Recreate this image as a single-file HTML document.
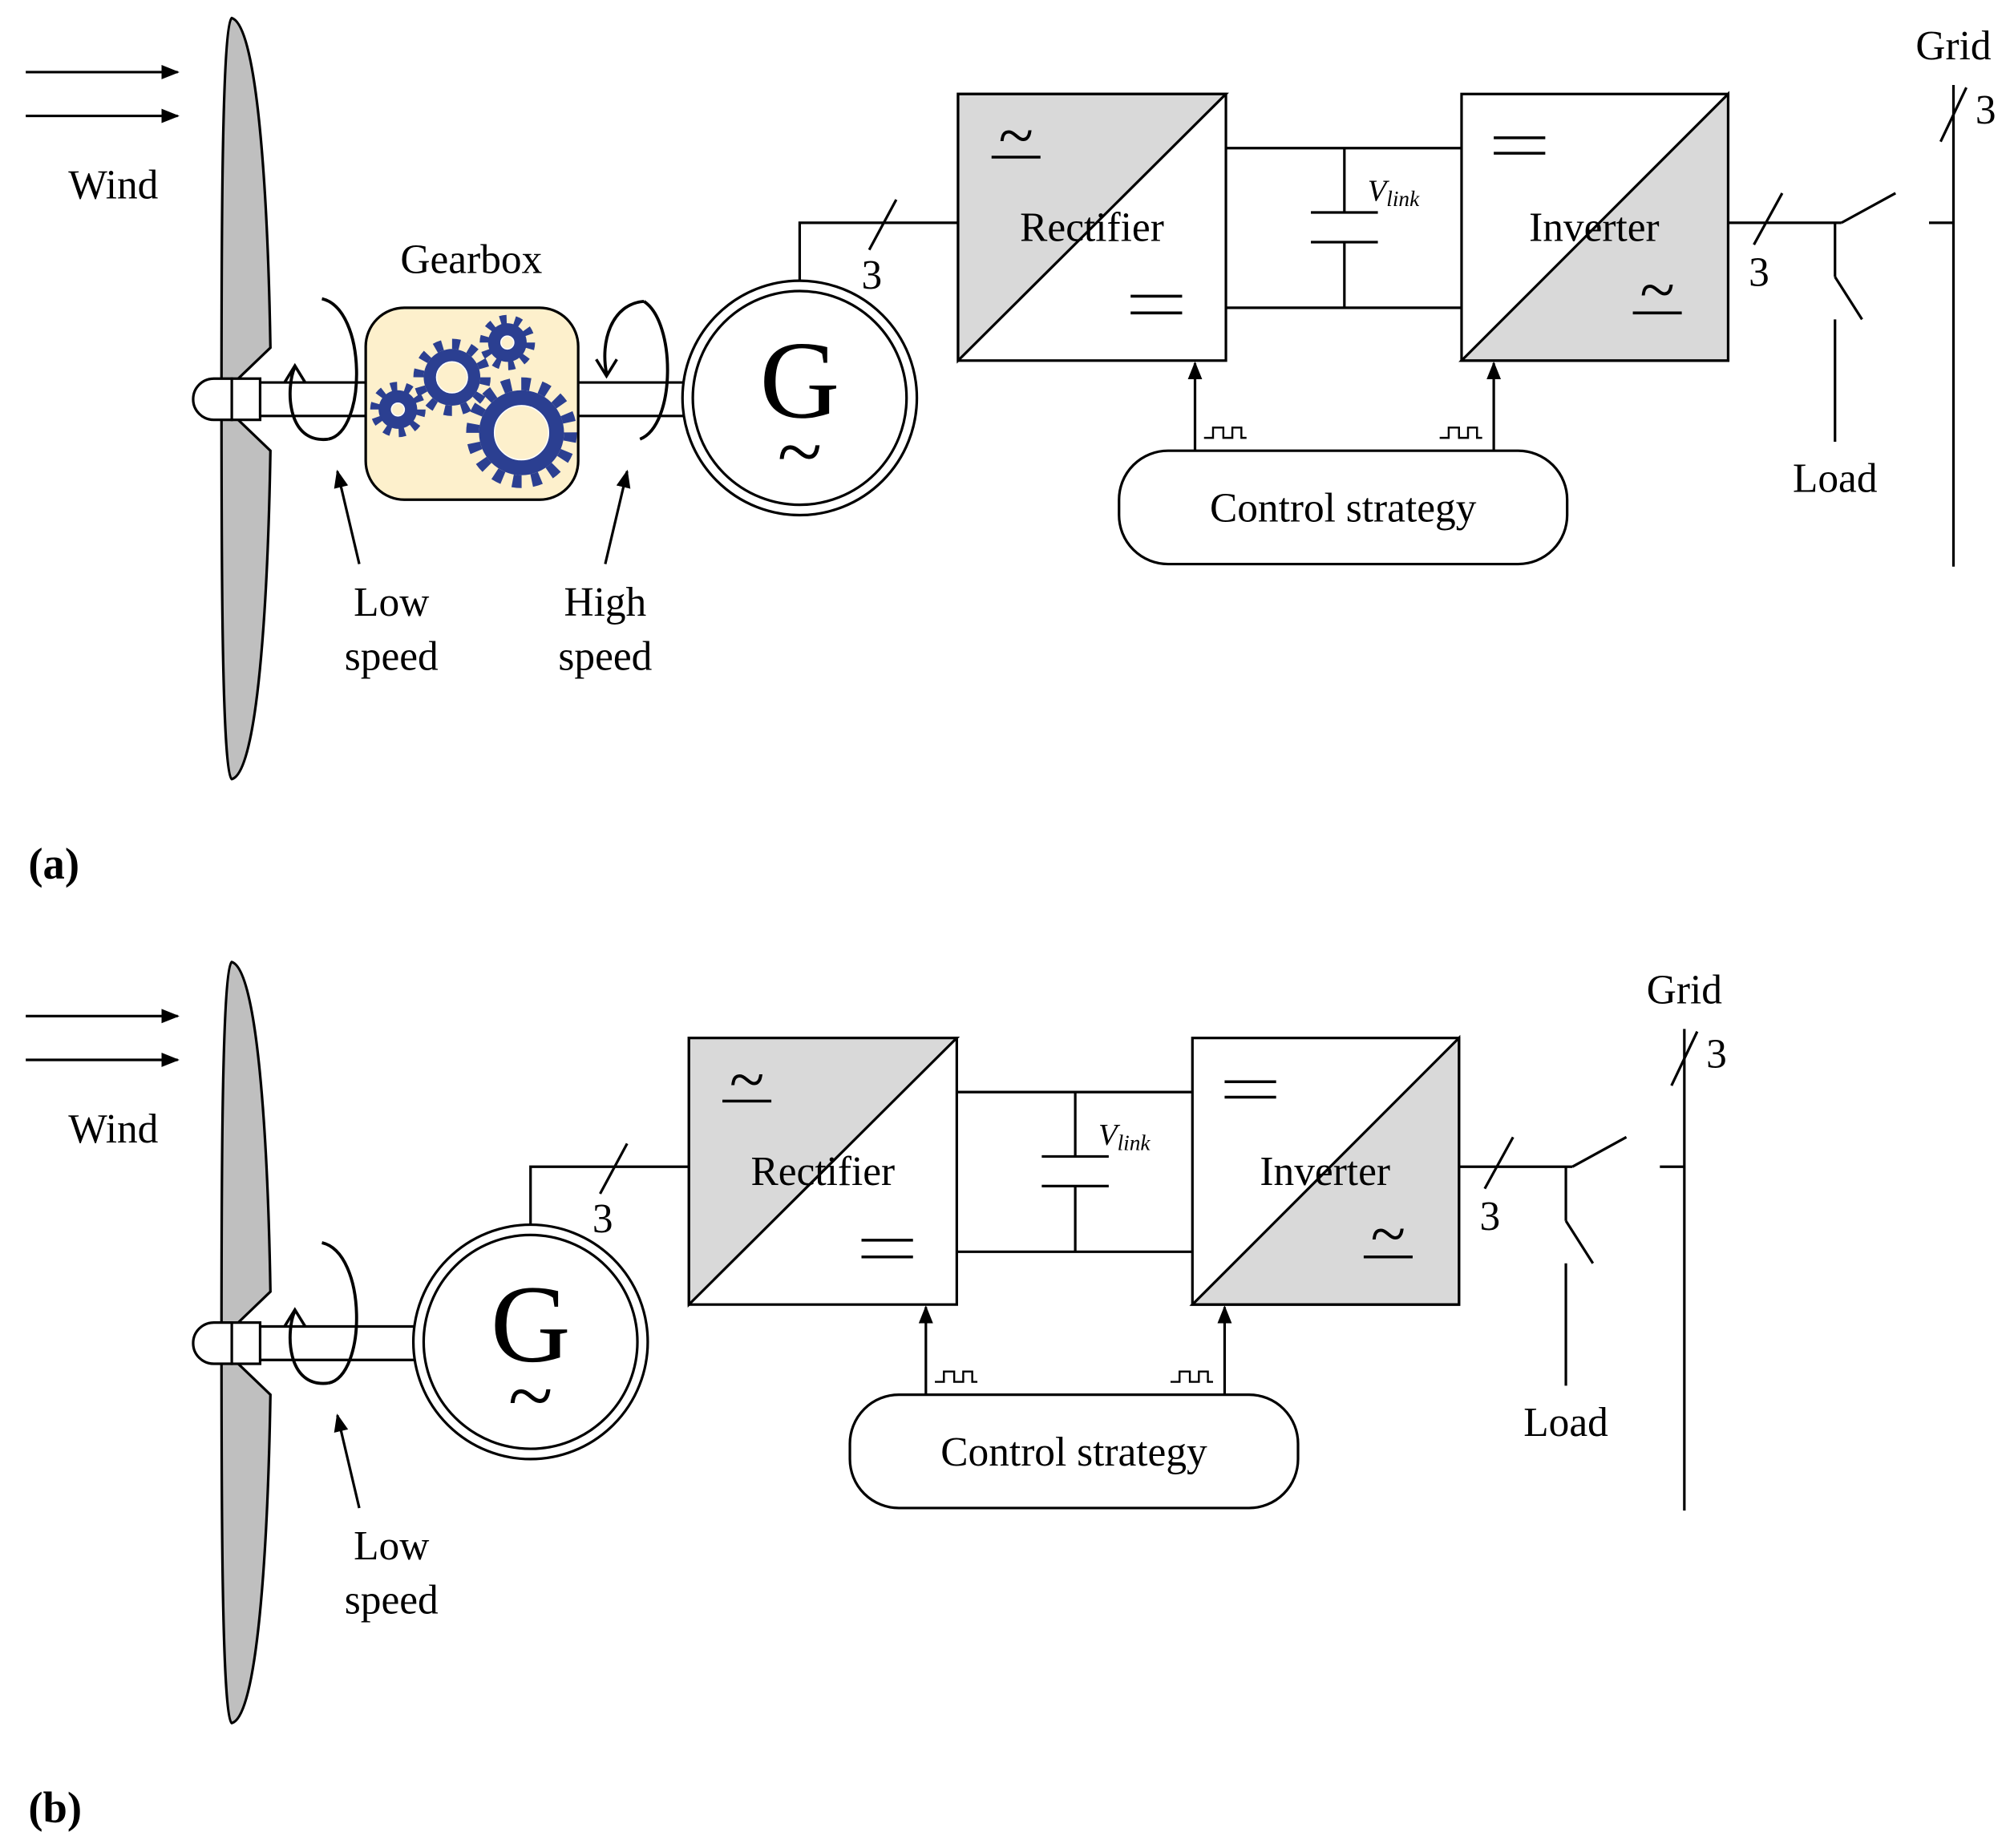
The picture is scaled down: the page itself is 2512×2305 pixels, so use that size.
<!DOCTYPE html>
<html><head><meta charset="utf-8"><style>html,body{margin:0;padding:0;background:#fff}svg{display:block}</style></head>
<body>
<svg width="2512" height="2305" viewBox="0 0 1564 1435" preserveAspectRatio="none" xmlns="http://www.w3.org/2000/svg" font-family="Liberation Serif, serif" font-size="32">
<defs>
<marker id="ah2" viewBox="0 0 10 10" refX="9" refY="5" markerWidth="14" markerHeight="14" orient="auto" markerUnits="userSpaceOnUse"><path d="M0,1 L10,5 L0,9 z" fill="#000"/></marker>
<g id="turb">
<line x1="20" y1="56" x2="138" y2="56" stroke="#000" stroke-width="2" marker-end="url(#ah2)"/>
<line x1="20" y1="90" x2="138" y2="90" stroke="#000" stroke-width="2" marker-end="url(#ah2)"/>
<text x="88" y="154" text-anchor="middle">Wind</text>
<path d="M180,14 C200,20 208,150 210,270 L185,294 L185,326 L210,350 C208,470 200,600 180,605 C172,600 172,420 172,310 C172,200 172,20 180,14 Z" fill="#bfbfbf" stroke="#000" stroke-width="2"/>
<path d="M180,294 L166,294 A16,16 0 0 0 166,326 L180,326 Z" fill="#fff" stroke="#000" stroke-width="2"/>
<rect x="180" y="294" width="22" height="32" fill="#fff" stroke="#000" stroke-width="2"/>
<path d="M250,232 C285,240 285,335 255,341" fill="none" stroke="#000" stroke-width="2.4"/>
<path d="M255,341 C222,345 222,300 229,285" fill="none" stroke="#000" stroke-width="2.4"/>
<path d="M221,297 L229,284 L237,297" fill="none" stroke="#000" stroke-width="2.2"/>
<line x1="279" y1="438" x2="262" y2="366" stroke="#000" stroke-width="2" marker-end="url(#ah2)"/>
<text x="304" y="478" text-anchor="middle">Low</text>
<text x="304" y="520" text-anchor="middle">speed</text>
</g>
<g id="elec">
<circle cx="621" cy="309" r="91" fill="#fff" stroke="#000" stroke-width="2"/>
<circle cx="621" cy="309" r="83" fill="none" stroke="#000" stroke-width="2"/>
<text x="621" y="324" text-anchor="middle" font-size="86">G</text>
<text x="621" y="372" text-anchor="middle" font-size="64">~</text>
<polyline points="621,218 621,173 744,173" fill="none" stroke="#000" stroke-width="2"/>
<line x1="675" y1="194" x2="696" y2="155" stroke="#000" stroke-width="2"/>
<text x="677" y="224" text-anchor="middle">3</text>
<rect x="744" y="73" width="208" height="207" fill="#fff" stroke="#000" stroke-width="2"/>
<path d="M744,73 L952,73 L744,280 Z" fill="#d9d9d9" stroke="#000" stroke-width="2"/>
<text x="848" y="187" text-anchor="middle">Rectifier</text>
<text x="789" y="122" text-anchor="middle" font-size="50">~</text>
<line x1="770" y1="122" x2="808" y2="122" stroke="#000" stroke-width="2.2"/>
<line x1="878" y1="230" x2="918" y2="230" stroke="#000" stroke-width="2.2"/>
<line x1="878" y1="243" x2="918" y2="243" stroke="#000" stroke-width="2.2"/>
<polyline points="952,115 1135,115" stroke="#000" stroke-width="2"/>
<polyline points="952,239 1135,239" stroke="#000" stroke-width="2"/>
<line x1="1044" y1="115" x2="1044" y2="165" stroke="#000" stroke-width="2"/>
<line x1="1018" y1="165" x2="1070" y2="165" stroke="#000" stroke-width="2"/>
<line x1="1018" y1="188" x2="1070" y2="188" stroke="#000" stroke-width="2"/>
<line x1="1044" y1="188" x2="1044" y2="239" stroke="#000" stroke-width="2"/>
<text x="1062" y="156" font-size="24" font-style="italic">V<tspan font-size="17" dy="4">link</tspan></text>
<rect x="1135" y="73" width="207" height="207" fill="#fff" stroke="#000" stroke-width="2"/>
<path d="M1342,73 L1342,280 L1135,280 Z" fill="#d9d9d9" stroke="#000" stroke-width="2"/>
<text x="1238" y="187" text-anchor="middle">Inverter</text>
<line x1="1160" y1="107" x2="1200" y2="107" stroke="#000" stroke-width="2.2"/>
<line x1="1160" y1="119" x2="1200" y2="119" stroke="#000" stroke-width="2.2"/>
<text x="1287" y="242" text-anchor="middle" font-size="50">~</text>
<line x1="1268" y1="243" x2="1306" y2="243" stroke="#000" stroke-width="2.2"/>
<line x1="1342" y1="173" x2="1430" y2="173" stroke="#000" stroke-width="2"/>
<line x1="1362" y1="190" x2="1384" y2="150" stroke="#000" stroke-width="2"/>
<text x="1366" y="222" text-anchor="middle">3</text>
<line x1="1430" y1="173" x2="1472" y2="150" stroke="#000" stroke-width="2"/>
<line x1="1498" y1="173" x2="1517" y2="173" stroke="#000" stroke-width="2"/>
<line x1="1425" y1="173" x2="1425" y2="215" stroke="#000" stroke-width="2"/>
<line x1="1425" y1="215" x2="1446" y2="248" stroke="#000" stroke-width="2"/>
<line x1="1425" y1="248" x2="1425" y2="343" stroke="#000" stroke-width="2"/>
<text x="1425" y="382" text-anchor="middle">Load</text>
<line x1="1517" y1="66" x2="1517" y2="440" stroke="#000" stroke-width="2"/>
<line x1="1507" y1="110" x2="1527" y2="68" stroke="#000" stroke-width="2"/>
<text x="1542" y="96" text-anchor="middle">3</text>
<text x="1517" y="46" text-anchor="middle">Grid</text>
<rect x="869" y="350" width="348" height="88" rx="38" fill="#fff" stroke="#000" stroke-width="2"/>
<text x="1043" y="405" text-anchor="middle">Control strategy</text>
<line x1="928" y1="350" x2="928" y2="282" stroke="#000" stroke-width="2" marker-end="url(#ah2)"/>
<line x1="1160" y1="350" x2="1160" y2="282" stroke="#000" stroke-width="2" marker-end="url(#ah2)"/>
<polyline points="935,340 942,340 942,332 950,332 950,340 957,340 957,332 964,332 964,340 968,340" fill="none" stroke="#000" stroke-width="1.5"/>
<polyline points="1118,340 1125,340 1125,332 1133,332 1133,340 1140,340 1140,332 1147,332 1147,340 1151,340" fill="none" stroke="#000" stroke-width="1.5"/>
</g>
</defs>

<use href="#turb"/>
<line x1="202" y1="297" x2="285" y2="297" stroke="#000" stroke-width="2"/>
<line x1="202" y1="323" x2="285" y2="323" stroke="#000" stroke-width="2"/>
<line x1="449" y1="297" x2="531" y2="297" stroke="#000" stroke-width="2"/>
<line x1="449" y1="323" x2="531" y2="323" stroke="#000" stroke-width="2"/>
<rect x="284" y="239" width="165" height="149" rx="30" fill="#fdf0cc" stroke="#000" stroke-width="2"/>
<g fill="#2b3f91" stroke="#2b3f91">
<circle cx="405" cy="336" r="33" stroke="none"/><circle cx="405" cy="336" r="38" fill="none" stroke-width="10" stroke-dasharray="7 7.9"/>
<circle cx="351" cy="293" r="22" stroke="none"/><circle cx="351" cy="293" r="26" fill="none" stroke-width="8" stroke-dasharray="6 7.6"/>
<circle cx="309" cy="318" r="15" stroke="none"/><circle cx="309" cy="318" r="18" fill="none" stroke-width="7" stroke-dasharray="5 6.3"/>
<circle cx="394" cy="266" r="15" stroke="none"/><circle cx="394" cy="266" r="18" fill="none" stroke-width="7" stroke-dasharray="5 6.3"/>
</g>
<g fill="#fdf0cc" stroke="#fff" stroke-width="1">
<circle cx="405" cy="336" r="21"/><circle cx="351" cy="293" r="12"/><circle cx="309" cy="318" r="5"/><circle cx="394" cy="266" r="5"/>
</g>
<path d="M500,234 C525,250 525,330 497,341" fill="none" stroke="#000" stroke-width="2.4"/>
<path d="M500,234 C475,236 466,265 471,290" fill="none" stroke="#000" stroke-width="2.4"/>
<path d="M463,279 L471,292 L479,279" fill="none" stroke="#000" stroke-width="2.2"/>
<line x1="470" y1="438" x2="487" y2="366" stroke="#000" stroke-width="2" marker-end="url(#ah2)"/>
<text x="470" y="478" text-anchor="middle">High</text>
<text x="470" y="520" text-anchor="middle">speed</text>
<text x="366" y="212" text-anchor="middle">Gearbox</text>
<use href="#elec"/>
<text x="22" y="682" font-weight="bold" font-size="34">(a)</text>

<g transform="translate(0,733)">
<use href="#turb"/>
<line x1="202" y1="297" x2="322" y2="297" stroke="#000" stroke-width="2"/>
<line x1="202" y1="323" x2="322" y2="323" stroke="#000" stroke-width="2"/>
<use href="#elec" transform="translate(-209,0)"/>
</g>
<text x="22" y="1415" font-weight="bold" font-size="34">(b)</text>
</svg>
</body></html>
